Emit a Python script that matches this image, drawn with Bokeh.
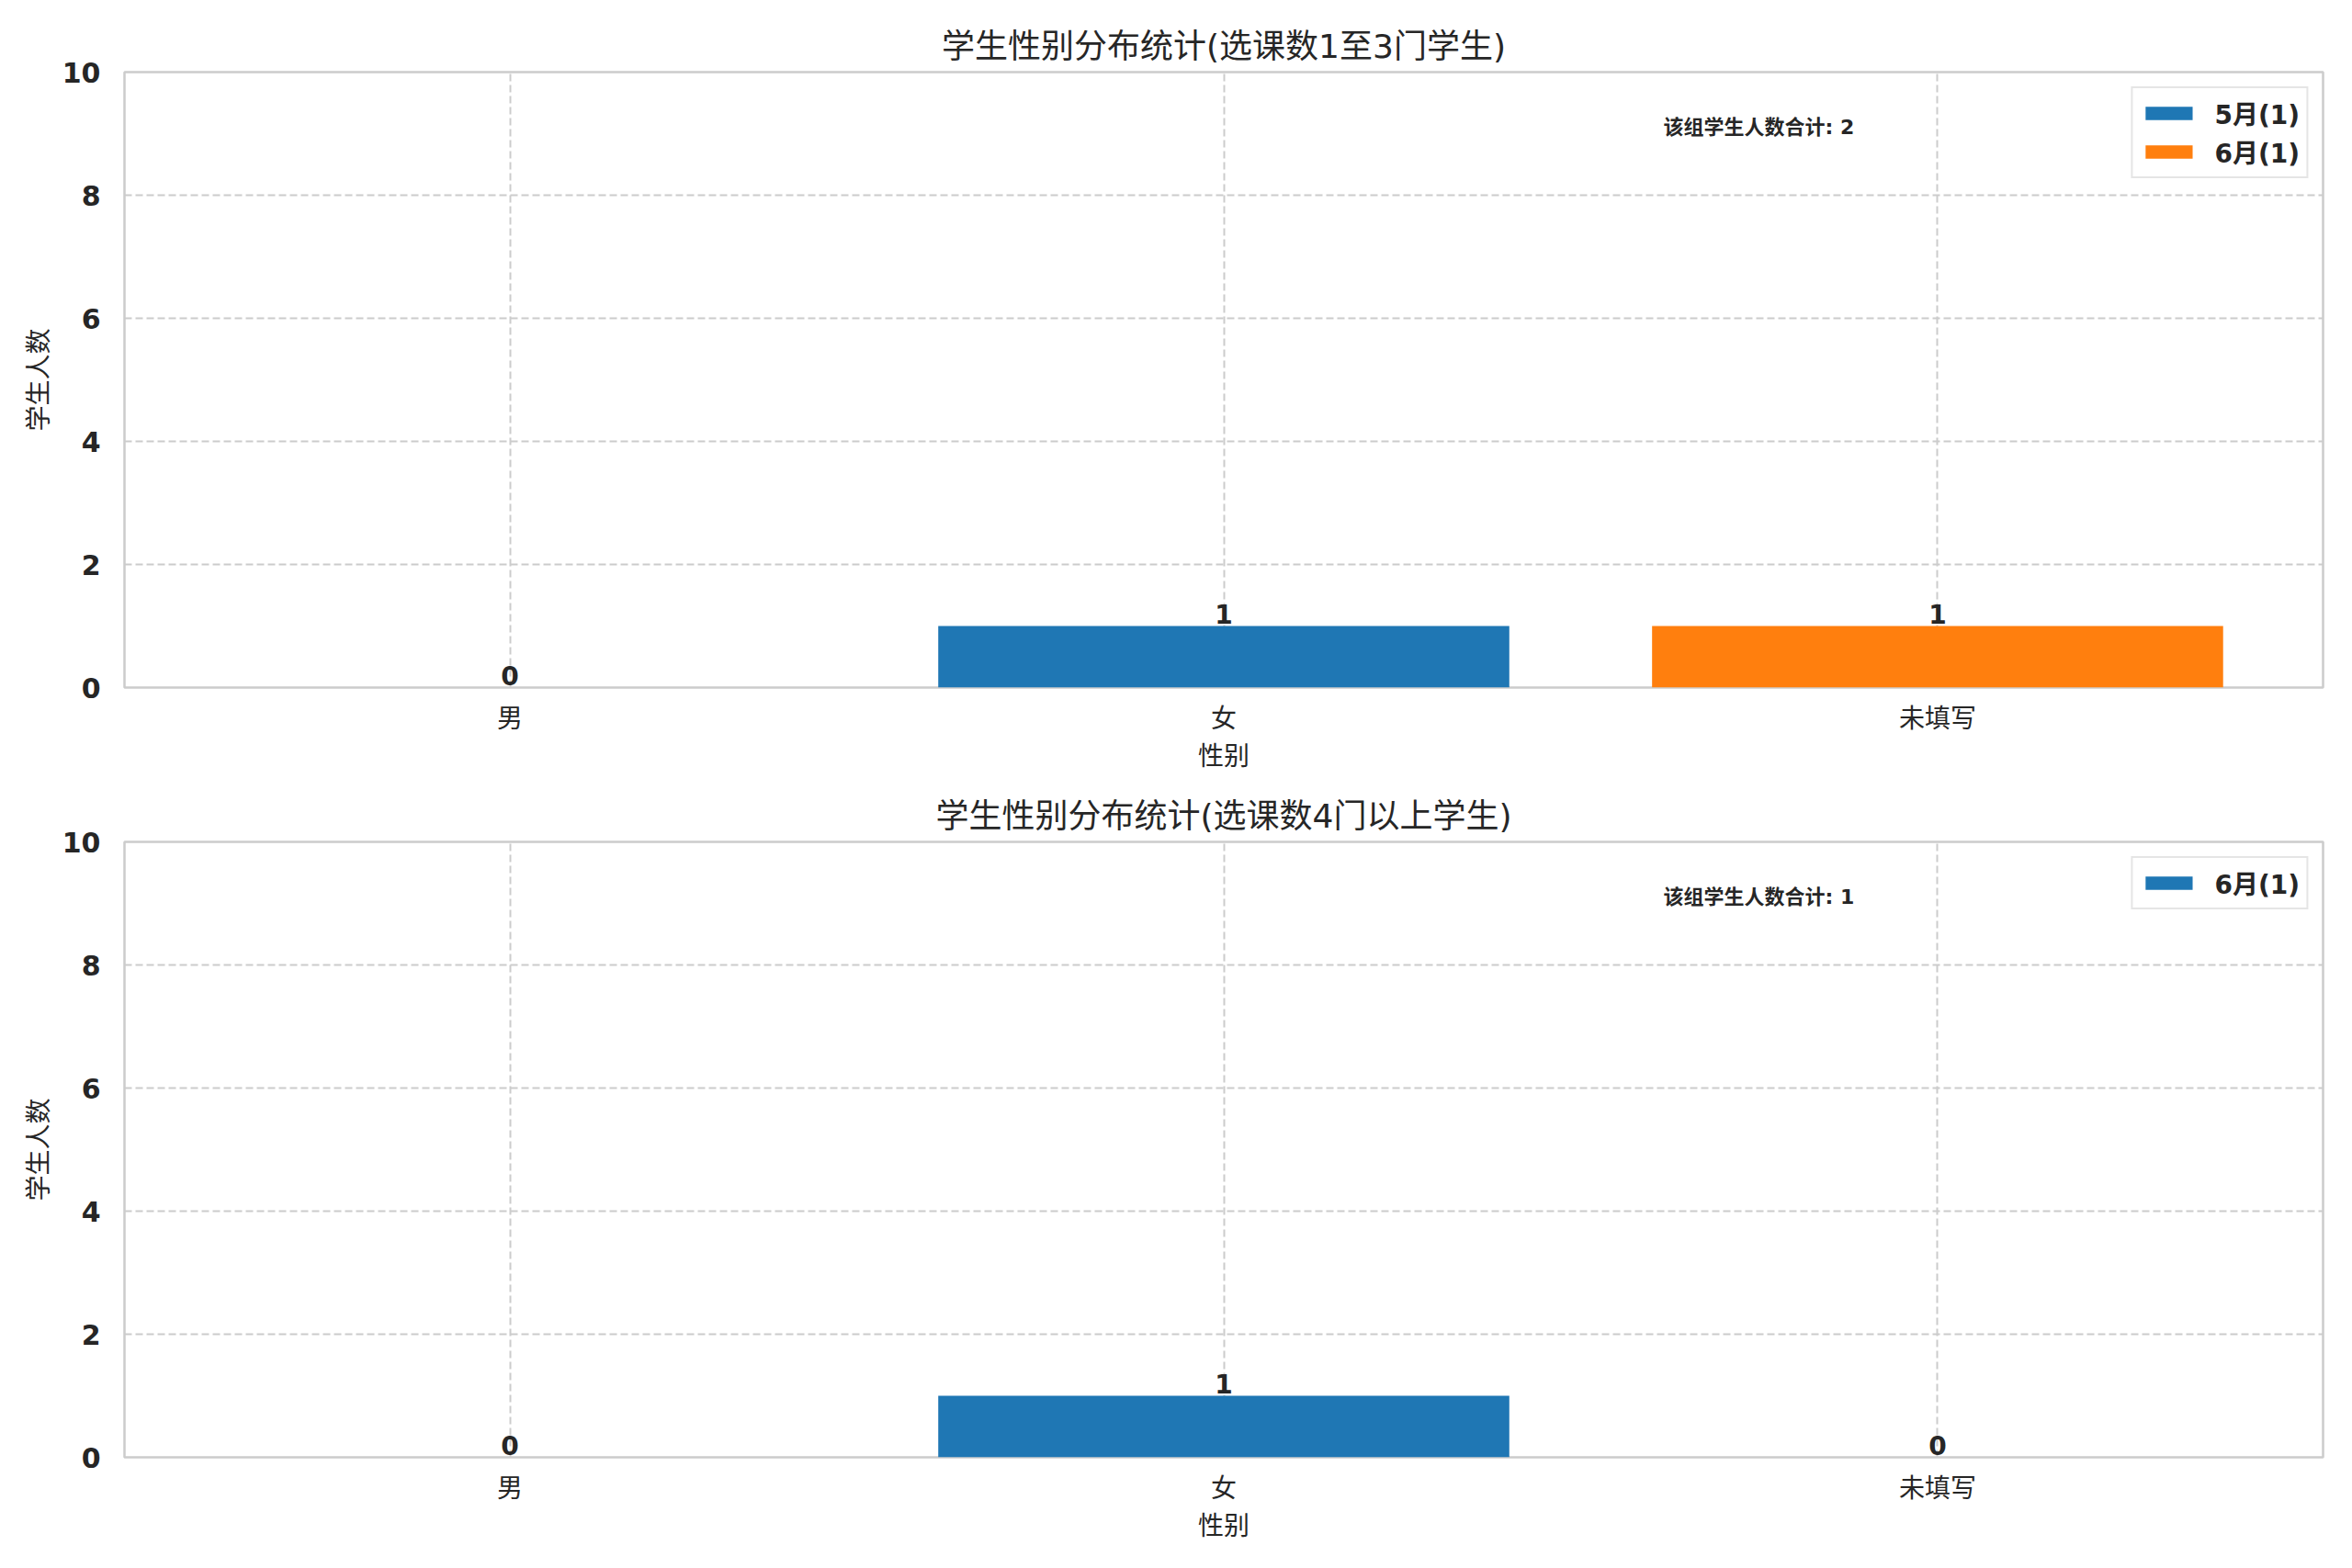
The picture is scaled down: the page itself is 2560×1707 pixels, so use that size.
from bokeh.plotting import figure
from bokeh.models import FactorRange, Range1d, Label, ColumnDataSource, Legend, LegendItem, FixedTicker
from bokeh.layouts import column
from bokeh.embed import file_html
from bokeh.resources import INLINE
from bokeh.core.properties import value

# ---------------- data ----------------
categories = ["男", "女", "未填写"]
x_label = "性别"
y_label = "学生人数"
y_ticks = [0, 2, 4, 6, 8, 10]

top_title = "学生性别分布统计(选课数1至3门学生)"
top_series = ["5月", "6月"]
top_values_5 = [0, 1, 0]
top_values_6 = [0, 0, 1]
top_counts = [1, 1]
top_total = 2

bottom_title = "学生性别分布统计(选课数4门以上学生)"
bottom_series = ["6月"]
bottom_values_6 = [0, 1, 0]
bottom_counts = [1]
bottom_total = 1

total_text = "该组学生人数合计"
palette = ["#1f77b4", "#ff7f0e"]

FONT = "DejaVu Sans, Noto Sans CJK SC"
TXT = "#262626"


def make_plot(title, series, values, counts, total, border_top, border_bottom):
    p = figure(
        x_range=FactorRange(*categories, range_padding=0.08 / 3),
        y_range=Range1d(0, 10),
        frame_width=2393, frame_height=670,
        min_border_left=135, min_border_right=24,
        min_border_top=border_top, min_border_bottom=border_bottom,
        output_backend="svg", toolbar_location=None,
        title=title,
    )
    data = {"cat": categories}
    for s, v in zip(series, values):
        data[s] = v
    totals = [sum(v[i] for v in values) for i in range(len(categories))]
    data["tot"] = totals
    data["lbl"] = [str(t) for t in totals]
    src = ColumnDataSource(data)

    rends = p.vbar_stack(series, x="cat", width=0.8, source=src,
                         color=palette[:len(series)], line_color=None)

    p.text(x="cat", y="tot", text="lbl", source=src,
           text_font=value(FONT), text_font_size="28px", text_font_style="bold",
           text_color=TXT, text_align="center", text_baseline="bottom",
           y_offset=-3)

    items = [LegendItem(label=f"{s}({c})", renderers=[r])
             for s, c, r in zip(series, counts, rends)]
    legend = Legend(items=items, location="top_right")
    legend.label_text_font = FONT
    legend.label_text_font_size = "28px"
    legend.label_text_font_style = "bold"
    legend.label_text_color = TXT
    legend.glyph_width = 64
    legend.glyph_height = 18
    legend.label_standoff = 18
    legend.spacing = 2
    legend.padding = 7
    legend.margin = 16
    legend.border_line_color = "#cccccc"
    legend.border_line_width = 2
    legend.background_fill_alpha = 0.85
    p.add_layout(legend)

    lab = Label(x=-0.04 + 0.7 * 3.08, y=9, y_offset=7, text=f"{total_text}: {total}",
                text_font=FONT, text_font_size="22px", text_font_style="bold",
                text_color=TXT, text_align="left", text_baseline="alphabetic")
    p.add_layout(lab)

    p.title.align = "center"
    p.title.text_font = FONT
    p.title.text_font_size = "36px"
    p.title.text_font_style = "normal"
    p.title.text_color = TXT
    p.title.standoff = 15

    p.outline_line_color = "#cccccc"
    p.outline_line_width = 2.5

    for g in (p.xgrid, p.ygrid):
        g.grid_line_color = "#cccccc"
        g.grid_line_width = 2
        g.grid_line_dash = "8 4"
    p.ygrid.ticker = FixedTicker(ticks=y_ticks)
    p.yaxis.ticker = FixedTicker(ticks=y_ticks)

    for ax in (p.xaxis, p.yaxis):
        ax.axis_line_color = None
        ax.major_tick_line_color = None
        ax.minor_tick_line_color = None
        ax.major_label_text_font = FONT
        ax.major_label_text_color = TXT
        ax.axis_label_text_font = FONT
        ax.axis_label_text_color = TXT
        ax.axis_label_text_font_style = "normal"
        ax.axis_label_text_font_size = "28px"
    p.xaxis.axis_label = x_label
    p.yaxis.axis_label = y_label
    p.xaxis.major_label_text_font_size = "28px"
    p.yaxis.major_label_text_font_size = "30px"
    p.yaxis.major_label_text_font_style = "bold"
    p.xaxis.major_label_standoff = 11
    p.yaxis.major_label_standoff = 20
    p.xaxis.axis_label_standoff = 5
    p.yaxis.axis_label_standoff = 6
    return p


p1 = make_plot(top_title, top_series, [top_values_5, top_values_6], top_counts,
               top_total, 78, 95)
p2 = make_plot(bottom_title, bottom_series, [bottom_values_6], bottom_counts,
               bottom_total, 73, 95)

layout = column(p1, p2, spacing=0)
open("out.html", "w").write(file_html(layout, INLINE))
